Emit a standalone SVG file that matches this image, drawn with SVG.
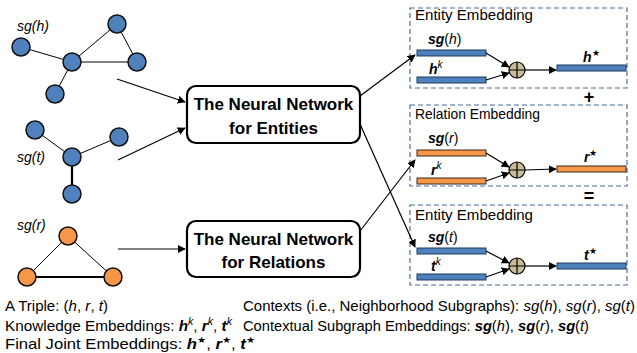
<svg xmlns="http://www.w3.org/2000/svg" width="637" height="353" viewBox="0 0 637 353">
<defs>
<style>
text{font-family:"Liberation Sans",Arial,sans-serif;fill:#000}
.nb{fill:#4F81BD;stroke:#111;stroke-width:1.5}
.no{fill:#F79646;stroke:#111;stroke-width:1.5}
.e{stroke:#000;stroke-width:1;fill:none}
.et{stroke:#000;stroke-width:2.2;fill:none}
.nn{fill:#fff;stroke:#000;stroke-width:2.2}
.nt{font-size:17px;font-weight:bold;text-anchor:middle}
.dash{fill:none;stroke:#4A6E9C;stroke-width:1.2;stroke-dasharray:5,3}
.bb{fill:#4F81BD;stroke:#1F3A60;stroke-width:1}
.bo{fill:#F79646;stroke:#3A2A1A;stroke-width:1}
.ar{stroke:#000;stroke-width:1.2;fill:none;marker-end:url(#ah)}
.ti{font-size:15px}
.lb{font-size:14px}
.sm{font-size:14px;font-style:italic}
.bi{font-weight:bold;font-style:italic}
.it{font-style:italic}
.pl{fill:#C9BD98;stroke:#000;stroke-width:1.2}
.bt{font-size:14.5px}
</style>
<marker id="ah" viewBox="0 0 10 10" refX="9" refY="5" markerWidth="8" markerHeight="8" markerUnits="userSpaceOnUse" orient="auto"><path d="M0,0 L10,5 L0,10 z" fill="#000"/></marker>
</defs>

<g id="graph-h">
<line class="e" x1="21" y1="47" x2="72" y2="62"/>
<line class="e" x1="72" y1="62" x2="117" y2="24"/>
<line class="e" x1="117" y1="24" x2="137" y2="62"/>
<line class="e" x1="72" y1="62" x2="137" y2="62"/>
<line class="e" x1="72" y1="62" x2="55" y2="94"/>
<circle class="nb" cx="21" cy="47" r="9"/>
<circle class="nb" cx="72" cy="62" r="9"/>
<circle class="nb" cx="117" cy="24" r="9"/>
<circle class="nb" cx="137" cy="62" r="9"/>
<circle class="nb" cx="55" cy="94" r="9"/>
<text class="sm" x="17" y="31">sg(<tspan>h</tspan>)</text>
</g>

<g id="graph-t">
<line class="e" x1="35" y1="130" x2="72" y2="157"/>
<line class="e" x1="72" y1="157" x2="119" y2="137"/>
<line class="et" x1="72" y1="157" x2="72" y2="194"/>
<circle class="nb" cx="35" cy="130" r="9"/>
<circle class="nb" cx="119" cy="137" r="9"/>
<circle class="nb" cx="72" cy="157" r="9"/>
<circle class="nb" cx="72" cy="194" r="9"/>
<text class="sm" x="17" y="162">sg(t)</text>
</g>

<g id="graph-r">
<line class="e" x1="68" y1="236" x2="27" y2="277"/>
<line class="e" x1="68" y1="236" x2="113" y2="277"/>
<line class="et" x1="27" y1="277" x2="113" y2="277"/>
<circle class="no" cx="68" cy="236" r="9"/>
<circle class="no" cx="27" cy="277" r="9"/>
<circle class="no" cx="113" cy="277" r="9"/>
<text class="sm" x="17" y="230">sg(r)</text>
</g>

<g id="nn-entities">
<rect class="nn" x="187" y="86" width="173" height="57" rx="9"/>
<text class="nt" x="273.5" y="110">The Neural Network</text>
<text class="nt" x="273.5" y="134">for Entities</text>
</g>

<g id="nn-relations">
<rect class="nn" x="187" y="221" width="173" height="56" rx="9"/>
<text class="nt" x="273.5" y="245">The Neural Network</text>
<text class="nt" x="273.5" y="268">for Relations</text>
</g>

<g id="emb-h">
<rect class="dash" x="410" y="8" width="217" height="80"/>
<text class="ti" x="415" y="20" textLength="118" lengthAdjust="spacingAndGlyphs">Entity Embedding</text>
<rect class="bb" x="417" y="50" width="69" height="6"/>
<rect class="bb" x="417" y="77" width="69" height="6"/>
<rect class="bb" x="557" y="65" width="69" height="6"/>
<text class="lb" x="428" y="44"><tspan class="bi">sg</tspan>(<tspan class="it">h</tspan>)</text>
<text class="lb" x="429" y="74"><tspan class="bi">h</tspan><tspan class="it" font-size="10" dy="-6">k</tspan></text>
<text class="lb" x="583" y="62"><tspan class="bi">h</tspan><tspan font-size="9" dy="-6">★</tspan></text>
<circle class="pl" cx="517" cy="70" r="8"/>
<path d="M509,70 H525 M517,62 V78" stroke="#000" stroke-width="1.2"/>
</g>

<g id="emb-r">
<rect class="dash" x="410" y="105" width="217" height="81"/>
<text class="ti" x="415" y="119" textLength="125" lengthAdjust="spacingAndGlyphs">Relation Embedding</text>
<rect class="bo" x="417" y="150" width="69" height="6"/>
<rect class="bo" x="417" y="178" width="69" height="6"/>
<rect class="bo" x="557" y="166" width="69" height="6"/>
<text class="lb" x="428" y="143"><tspan class="bi">sg</tspan>(<tspan class="it">r</tspan>)</text>
<text class="lb" x="431" y="175"><tspan class="bi">r</tspan><tspan class="it" font-size="10" dy="-6">k</tspan></text>
<text class="lb" x="584" y="162"><tspan class="bi">r</tspan><tspan font-size="9" dy="-6">★</tspan></text>
<circle class="pl" cx="517" cy="170" r="8"/>
<path d="M509,170 H525 M517,162 V178" stroke="#000" stroke-width="1.2"/>
</g>

<g id="emb-t">
<rect class="dash" x="410" y="205" width="217" height="80"/>
<text class="ti" x="415" y="220" textLength="118" lengthAdjust="spacingAndGlyphs">Entity Embedding</text>
<rect class="bb" x="417" y="248" width="69" height="6"/>
<rect class="bb" x="417" y="274" width="69" height="6"/>
<rect class="bb" x="557" y="263" width="69" height="6"/>
<text class="lb" x="428" y="242"><tspan class="bi">sg</tspan>(<tspan class="it">t</tspan>)</text>
<text class="lb" x="431" y="271"><tspan class="bi">t</tspan><tspan class="it" font-size="10" dy="-6">k</tspan></text>
<text class="lb" x="584" y="260"><tspan class="bi">t</tspan><tspan font-size="9" dy="-6">★</tspan></text>
<circle class="pl" cx="517" cy="266" r="8"/>
<path d="M509,266 H525 M517,258 V274" stroke="#000" stroke-width="1.2"/>
</g>

<g id="ops">
<text x="589" y="103" font-size="18" font-weight="bold" text-anchor="middle">+</text>
<text x="589" y="202" font-size="18" font-weight="bold" text-anchor="middle">=</text>
</g>

<g id="connectors">
<line class="ar" x1="117" y1="79" x2="185" y2="102"/>
<line class="ar" x1="118" y1="160" x2="185" y2="128"/>
<line class="ar" x1="118" y1="249" x2="185" y2="249"/>
<line class="ar" x1="360" y1="96" x2="415" y2="55"/>
<line class="ar" x1="360" y1="124" x2="415" y2="247"/>
<line class="ar" x1="360" y1="231" x2="415" y2="160"/>
<line class="ar" x1="486" y1="53" x2="509" y2="67"/>
<line class="ar" x1="486" y1="80" x2="509" y2="73"/>
<line class="ar" x1="525" y1="70" x2="556" y2="70"/>
<line class="ar" x1="486" y1="153" x2="509" y2="167"/>
<line class="ar" x1="486" y1="181" x2="509" y2="173"/>
<line class="ar" x1="525" y1="170" x2="556" y2="169"/>
<line class="ar" x1="486" y1="251" x2="509" y2="263"/>
<line class="ar" x1="486" y1="277" x2="509" y2="269"/>
<line class="ar" x1="525" y1="266" x2="556" y2="266"/>
</g>

<g id="legend">
<text class="bt" x="5" y="311" textLength="103" lengthAdjust="spacingAndGlyphs">A Triple: (<tspan class="it">h</tspan>, <tspan class="it">r</tspan>, <tspan class="it">t</tspan>)</text>
<text class="bt" x="5" y="331" textLength="227" lengthAdjust="spacingAndGlyphs">Knowledge Embeddings: <tspan class="bi">h</tspan><tspan class="it" font-size="10" dy="-6">k</tspan><tspan dy="6">, </tspan><tspan class="bi">r</tspan><tspan class="it" font-size="10" dy="-6">k</tspan><tspan dy="6">, </tspan><tspan class="bi">t</tspan><tspan class="it" font-size="10" dy="-6">k</tspan></text>
<text class="bt" x="5" y="349" textLength="250" lengthAdjust="spacingAndGlyphs">Final Joint Embeddings: <tspan class="bi">h</tspan><tspan font-size="9" dy="-6">★</tspan><tspan dy="6">, </tspan><tspan class="bi">r</tspan><tspan font-size="9" dy="-6">★</tspan><tspan dy="6">, </tspan><tspan class="bi">t</tspan><tspan font-size="9" dy="-6">★</tspan></text>
<text class="bt" x="243" y="311" textLength="392" lengthAdjust="spacingAndGlyphs">Contexts (i.e., Neighborhood Subgraphs): <tspan class="it">sg</tspan>(<tspan class="it">h</tspan>), <tspan class="it">sg</tspan>(<tspan class="it">r</tspan>), <tspan class="it">sg</tspan>(<tspan class="it">t</tspan>)</text>
<text class="bt" x="243" y="331" textLength="346" lengthAdjust="spacingAndGlyphs">Contextual Subgraph Embeddings: <tspan class="bi">sg</tspan>(<tspan class="it">h</tspan>), <tspan class="bi">sg</tspan>(<tspan class="it">r</tspan>), <tspan class="bi">sg</tspan>(<tspan class="it">t</tspan>)</text>
</g>
</svg>
